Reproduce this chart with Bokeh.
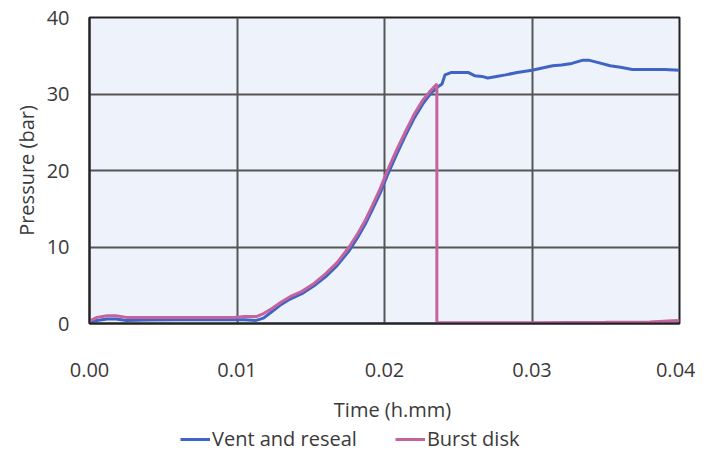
from bokeh.plotting import figure
from bokeh.models import Range1d, FixedTicker, NumeralTickFormatter, Legend, LegendItem, Label
from bokeh.layouts import column
from bokeh.embed import file_html
from bokeh.resources import INLINE

# ---- data ----
vent_t = [0.0000, 0.0005, 0.0012, 0.0018, 0.0025, 0.0040, 0.0060, 0.0080, 0.0098,
          0.0105, 0.0113, 0.0118, 0.0124, 0.0130, 0.0136, 0.0144, 0.0152, 0.0160,
          0.0168, 0.0176, 0.0182, 0.0187, 0.0192, 0.0197, 0.0202, 0.0208, 0.0214,
          0.0220, 0.0226, 0.0231, 0.0236, 0.0239, 0.0241, 0.0245, 0.0250, 0.0257,
          0.0261, 0.0266, 0.0270, 0.0276, 0.0282, 0.0290, 0.0300, 0.0307, 0.0314,
          0.0320, 0.0327, 0.0334, 0.0339, 0.0345, 0.0353, 0.0360, 0.0368, 0.0380,
          0.0390, 0.0400]
vent_p = [0.1, 0.4, 0.6, 0.6, 0.4, 0.45, 0.5, 0.5, 0.5,
          0.5, 0.4, 0.7, 1.6, 2.5, 3.2, 3.9, 4.9, 6.1,
          7.6, 9.5, 11.3, 13.0, 15.0, 17.0, 19.4, 22.0, 24.5,
          26.8, 28.7, 30.0, 30.9, 31.3, 32.5, 32.8, 32.8, 32.8,
          32.4, 32.3, 32.1, 32.3, 32.5, 32.8, 33.1, 33.4, 33.7,
          33.8, 34.0, 34.4, 34.4, 34.1, 33.7, 33.5, 33.2, 33.2,
          33.2, 33.1]

burst_t = [0.0000, 0.0005, 0.0012, 0.0018, 0.0025, 0.0040, 0.0060, 0.0080, 0.0098,
           0.0105, 0.0113, 0.0118, 0.0124, 0.0130, 0.0136, 0.0144, 0.0152, 0.0160,
           0.0168, 0.0176, 0.0182, 0.0187, 0.0192, 0.0197, 0.0202, 0.0208, 0.0214,
           0.0220, 0.0226, 0.0231, 0.02355, 0.02355, 0.0300, 0.0350, 0.0380, 0.0395,
           0.0400]
burst_p = [0.3, 0.8, 1.0, 1.0, 0.8, 0.8, 0.8, 0.8, 0.8,
           0.9, 0.9, 1.3, 2.0, 2.8, 3.5, 4.2, 5.2, 6.5,
           8.0, 10.0, 11.8, 13.5, 15.5, 17.6, 20.0, 22.6, 25.0,
           27.3, 29.2, 30.4, 31.3, 0.1, 0.1, 0.15, 0.2, 0.35,
           0.4]

x_ticks = [0.0, 0.01, 0.02, 0.03, 0.04]
y_ticks = [0, 10, 20, 30, 40]
series_names = ["Vent and reseal", "Burst disk"]
series_colors = ["#3f64c4", "#c4649f"]
x_title = "Time (h.mm)"
y_title = "Pressure (bar)"

FONT = "Open Sans"
TXT = "#3a3a3a"

# ---------------- main chart ----------------
p = figure(width=695, height=393, output_backend="svg", toolbar_location=None,
           x_range=Range1d(0, 0.04), y_range=Range1d(0, 40),
           min_border_left=89, min_border_right=16, min_border_top=17, min_border_bottom=70)

p.border_fill_color = "white"
p.background_fill_color = "#eef3fb"
p.outline_line_color = "#222222"
p.outline_line_width = 2

blue = p.line(vent_t, vent_p, line_color=series_colors[0], line_width=3)
pink = p.line(burst_t, burst_p, line_color=series_colors[1], line_width=3)

for ax in (p.xaxis[0], p.yaxis[0]):
    ax.major_tick_out = 0
    ax.major_tick_in = 0
    ax.minor_tick_out = 0
    ax.minor_tick_in = 0
    ax.axis_line_color = "#222222"
    ax.axis_line_width = 2
    ax.major_label_text_font = FONT
    ax.major_label_text_font_size = "20px"
    ax.major_label_text_color = TXT
    ax.axis_label_text_font = FONT
    ax.axis_label_text_font_size = "20px"
    ax.axis_label_text_font_style = "normal"
    ax.axis_label_text_color = TXT

p.xaxis.ticker = FixedTicker(ticks=x_ticks)
p.yaxis.ticker = FixedTicker(ticks=y_ticks)
p.xaxis.formatter = NumeralTickFormatter(format="0.00")
p.yaxis.axis_label = y_title
p.xaxis.major_label_standoff = 39
p.yaxis.major_label_standoff = 20
p.yaxis.axis_label_standoff = 4

p.xgrid.ticker = FixedTicker(ticks=x_ticks)
p.ygrid.ticker = FixedTicker(ticks=y_ticks)
for g in (p.xgrid[0], p.ygrid[0]):
    g.grid_line_color = "#555555"
    g.grid_line_width = 2

# ---------------- x title + legend strip ----------------
H2 = 61
p2 = figure(width=695, height=H2, output_backend="svg", toolbar_location=None,
            x_range=Range1d(0, 1), y_range=Range1d(0, 1),
            min_border_left=89, min_border_right=16,
            min_border_top=0, min_border_bottom=0)
p2.axis.visible = False
p2.grid.visible = False
p2.outline_line_color = None
p2.background_fill_color = "white"
p2.border_fill_color = "white"

p2.add_layout(Label(x=303, y=H2 - 16, x_units="screen", y_units="screen", text=x_title,
                    text_align="center", text_baseline="middle", text_font=FONT,
                    text_font_size="20px", text_color=TXT))

# legend-only renderers, kept outside the strip's visible range
lb = p2.line(x=[-1, -2], y=[-1, -2], line_color=series_colors[0], line_width=3)
lp = p2.line(x=[-1, -2], y=[-1, -2], line_color=series_colors[1], line_width=3)

legend = Legend(items=[LegendItem(label=series_names[0], renderers=[lb]),
                       LegendItem(label=series_names[1], renderers=[lp])],
                orientation="horizontal", location=(91, 2))
legend.border_line_color = None
legend.background_fill_alpha = 0
legend.label_text_font = FONT
legend.label_text_font_size = "20px"
legend.label_text_color = TXT
legend.glyph_width = 30
legend.label_standoff = 2
legend.spacing = 38
legend.padding = 0
legend.margin = 0
p2.add_layout(legend, "center")

layout = column(p, p2, spacing=0)
open("out.html", "w").write(file_html(layout, INLINE))
